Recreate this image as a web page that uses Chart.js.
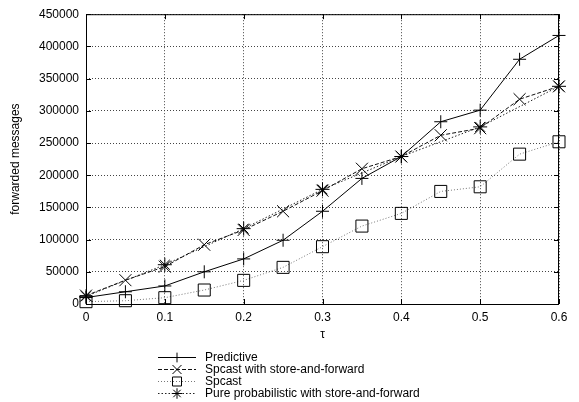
<!DOCTYPE html>
<html>
<head>
<meta charset="utf-8">
<script src="https://cdn.jsdelivr.net/npm/chart.js@4/dist/chart.umd.min.js"></script>
<style>
  html, body { margin: 0; padding: 0; background: #fff; }
  #wrap { width: 579px; height: 402px; }
</style>
</head>
<body>
<div id="wrap"><canvas id="chart" width="579" height="402"></canvas></div>
<script>
// 값들
const tau = [0, 0.05, 0.1, 0.15, 0.2, 0.25, 0.3, 0.35, 0.4, 0.45, 0.5, 0.55, 0.6];
const tauCoarse = [0, 0.1, 0.2, 0.3, 0.4, 0.5, 0.6];
const predictive = [10000, 19000, 28000, 50000, 70000, 99000, 144000, 195000, 229000, 283000, 301000, 380000, 417000];
const spcastStoreForward = [13000, 37000, 58000, 92000, 115000, 144000, 176000, 210000, 229000, 262000, 273000, 318000, 338000];
const spcast = [3600, 5100, 9800, 21700, 36700, 56900, 89000, 121000, 140700, 174800, 182000, 232700, 251900];
const pureProbabilistic = [12000, 61000, 117000, 178000, 229000, 275000, 338000];
const seriesNames = ['Predictive', 'Spcast with store-and-forward', 'Spcast', 'Pure probabilistic with store-and-forward'];

const FONT = 'Liberation Sans, Arial, Helvetica, sans-serif';

const toPoints = (xs, ys) => xs.map((x, i) => ({ x, y: ys[i] }));

const datasets = [
  {
    label: seriesNames[0],
    data: toPoints(tau, predictive),
    borderColor: '#000',
    borderWidth: 1,
    pointStyle: 'cross',
    pointRadius: 6.5,
  },
  {
    label: seriesNames[1],
    data: toPoints(tau, spcastStoreForward),
    borderColor: '#111',
    borderWidth: 1,
    borderDash: [4, 2],
    pointStyle: 'crossRot',
    pointRadius: 8.5,
  },
  {
    label: seriesNames[2],
    data: toPoints(tau, spcast),
    borderColor: '#777',
    borderWidth: 1,
    borderDash: [1, 2],
    pointStyle: 'rect',
    pointRadius: 8.5,
  },
  {
    label: seriesNames[3],
    data: toPoints(tauCoarse, pureProbabilistic),
    borderColor: '#222',
    borderWidth: 1,
    borderDash: [1.5, 2],
    pointStyle: 'star',
    pointRadius: 7,
  },
];
datasets.forEach((d) => {
  d.pointBorderColor = '#000';
  d.pointBackgroundColor = 'rgba(0,0,0,0)';
  d.pointBorderWidth = 1;
  d.pointHoverRadius = d.pointRadius;
  d.tension = 0;
  d.fill = false;
  d.clip = false;
});

// 테두리, 안쪽 눈금, 범례를 그림
const framePlugin = {
  id: 'frameAndLegend',
  afterDraw(chart) {
    const { ctx, chartArea: a, scales } = chart;
    ctx.save();
    ctx.strokeStyle = '#000';
    ctx.lineWidth = 1;
    ctx.setLineDash([]);
    ctx.strokeRect(a.left + 0.5, a.top + 0.5, a.right - a.left - 1, a.bottom - a.top);

    ctx.beginPath();
    scales.y.ticks.forEach((t) => {
      const y = Math.round(scales.y.getPixelForValue(t.value)) + 0.5;
      ctx.moveTo(a.left, y); ctx.lineTo(a.left + 5, y);
      ctx.moveTo(a.right, y); ctx.lineTo(a.right - 5, y);
    });
    scales.x.ticks.forEach((t) => {
      const x = Math.round(scales.x.getPixelForValue(t.value)) + 0.5;
      ctx.moveTo(x, a.bottom); ctx.lineTo(x, a.bottom - 5);
      ctx.moveTo(x, a.top); ctx.lineTo(x, a.top + 5);
    });
    ctx.stroke();

    // 범례
    const x0 = 158, x1 = 196, textX = 205;
    ctx.font = '12px ' + FONT;
    ctx.textBaseline = 'middle';
    ctx.fillStyle = '#000';
    chart.data.datasets.forEach((d, i) => {
      const y = 357 + i * 12;
      ctx.strokeStyle = d.borderColor;
      ctx.setLineDash(d.borderDash || []);
      ctx.beginPath();
      ctx.moveTo(x0, y + 0.5);
      ctx.lineTo(x1, y + 0.5);
      ctx.stroke();
      ctx.setLineDash([]);
      ctx.strokeStyle = '#000';
      ctx.fillStyle = 'rgba(0,0,0,0)';
      Chart.helpers.drawPoint(ctx, {
        pointStyle: d.pointStyle,
        radius: d.pointRadius * 0.75,
        borderWidth: 1,
        rotation: 0,
      }, (x0 + x1) / 2, y + 0.5);
      ctx.fillStyle = '#000';
      ctx.fillText(d.label, textX, y + 1);
    });
    ctx.restore();
  },
};

new Chart(document.getElementById('chart').getContext('2d'), {
  type: 'line',
  data: { datasets },
  options: {
    responsive: false,
    animation: false,
    events: [],
    layout: { padding: { left: 0, top: 14, right: 20, bottom: 58 } },
    plugins: {
      legend: { display: false },
      tooltip: { enabled: false },
    },
    scales: {
      x: {
        type: 'linear',
        min: 0,
        max: 0.6,
        ticks: {
          stepSize: 0.1,
          padding: 6,
          color: '#000',
          font: { family: FONT, size: 12 },
          callback: (v) => (v === 0 ? '0' : v.toFixed(1)),
        },
        grid: { color: '#444', lineWidth: 1, drawTicks: false },
        border: { display: false, dash: [1, 2] },
        title: {
          display: true,
          text: 'τ',
          color: '#000',
          font: { family: FONT, size: 12 },
          padding: { top: 0, bottom: 2 },
        },
        afterFit: (scale) => { scale.height = 40; },
      },
      y: {
        min: 0,
        max: 450000,
        ticks: {
          stepSize: 50000,
          padding: 7,
          color: '#000',
          font: { family: FONT, size: 12 },
          callback: (v) => String(v),
        },
        grid: { color: '#444', lineWidth: 1, drawTicks: false },
        border: { display: false, dash: [1, 2] },
        title: {
          display: true,
          text: 'forwarded messages',
          color: '#000',
          font: { family: FONT, size: 12 },
          padding: { top: 8, bottom: 0 },
        },
        afterFit: (scale) => { scale.width = 86; },
      },
    },
  },
  plugins: [framePlugin],
});
</script>
</body>
</html>
